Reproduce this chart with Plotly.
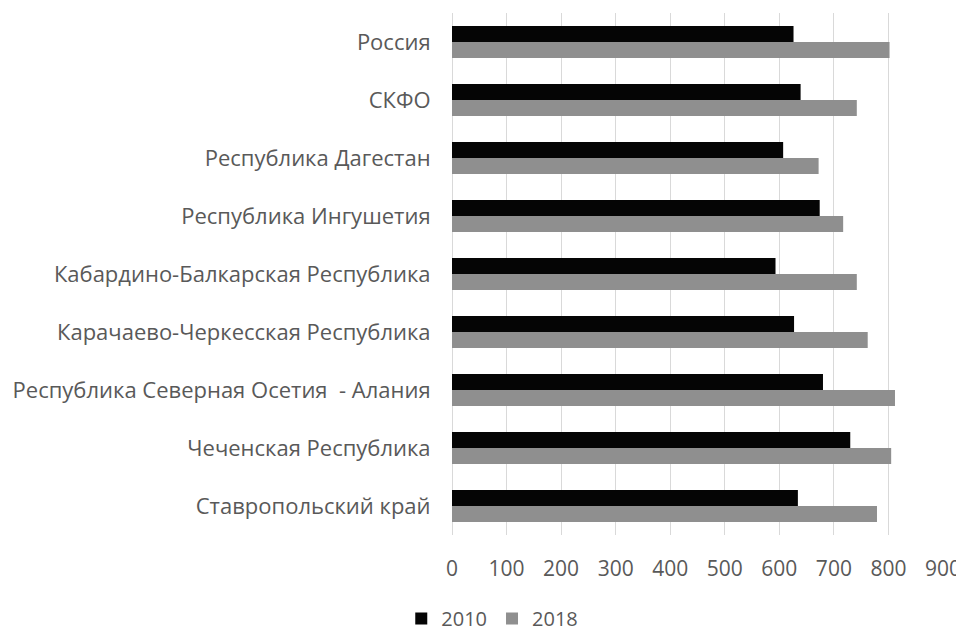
import plotly.graph_objects as go

categories = [
    "Россия",
    "СКФО",
    "Республика Дагестан",
    "Республика Ингушетия",
    "Кабардино-Балкарская Республика",
    "Карачаево-Черкесская Республика",
    "Республика Северная Осетия  - Алания",
    "Чеченская Республика",
    "Ставропольский край",
]
values_2010 = [626, 639, 607, 674, 593, 627, 680, 730, 634]
values_2018 = [802, 742, 672, 717, 742, 762, 812, 805, 779]
tick_values = [0, 100, 200, 300, 400, 500, 600, 700, 800, 900]

FONT = "Open Sans"
TEXT = "#595959"

fig = go.Figure()
fig.add_trace(go.Bar(y=categories, x=values_2010, orientation="h", name="2010",
                     marker=dict(color="#050505", line=dict(width=0))))
fig.add_trace(go.Bar(y=categories, x=values_2018, orientation="h", name="2018",
                     marker=dict(color="#8f8f8f", line=dict(width=0))))

# page body has an 8px default margin, so the figure is sized to fit inside it
fig.update_layout(
    width=956, height=625,
    margin=dict(l=444, r=21, t=5, b=98, autoexpand=False),
    paper_bgcolor="white", plot_bgcolor="white",
    barmode="group", bargap=0.45, bargroupgap=0,
    font=dict(family=FONT, color=TEXT, size=20),
    xaxis=dict(range=[0, 900], tickvals=tick_values, showgrid=True,
               gridcolor="#d9d9d9", gridwidth=1, zeroline=True,
               zerolinecolor="#d9d9d9", zerolinewidth=1,
               showline=False, ticks="outside", ticklen=15,
               tickcolor="rgba(0,0,0,0)", automargin=False,
               tickfont=dict(family=FONT, size=21, color=TEXT)),
    yaxis=dict(autorange="reversed", showgrid=False, showline=False,
               ticks="outside", ticklen=16, tickcolor="rgba(0,0,0,0)",
               automargin=False,
               tickfont=dict(family=FONT, size=22, color=TEXT)),
    legend=dict(orientation="h", x=0.082, xanchor="center", y=-0.16,
                yanchor="middle", font=dict(family=FONT, size=20, color=TEXT),
                itemwidth=30, traceorder="normal"),
    showlegend=True,
)

fig.write_html("out.html")
